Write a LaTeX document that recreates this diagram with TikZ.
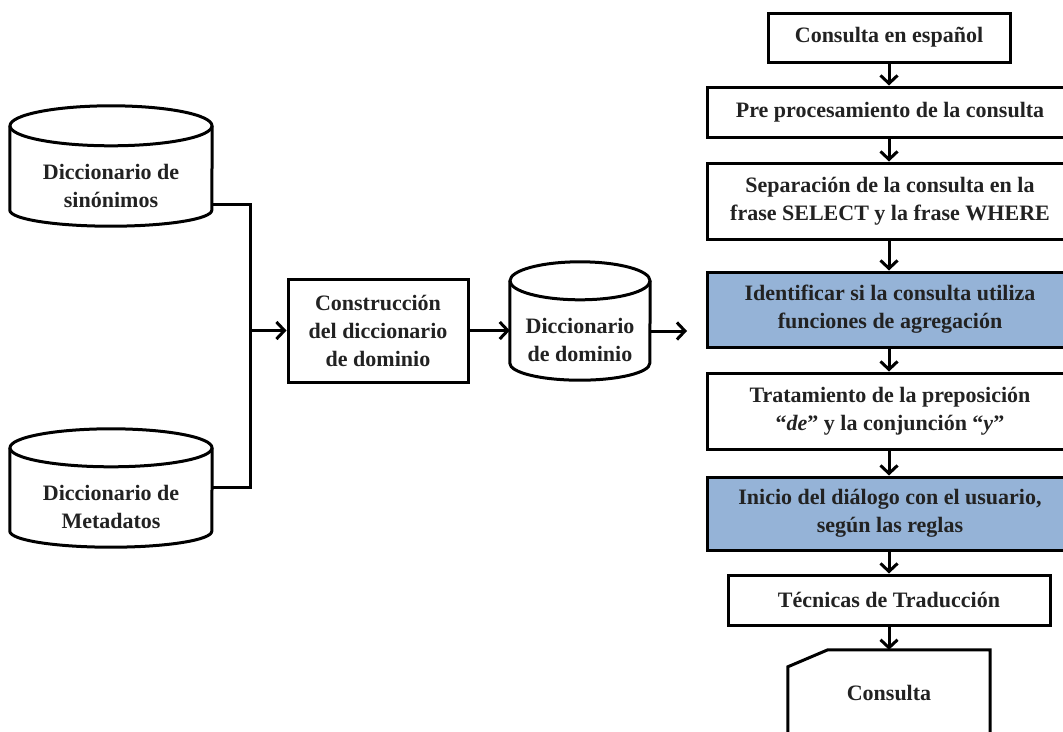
\documentclass[tikz,border=0pt]{standalone}
\usepackage{fontspec}
\setmainfont{Liberation Serif}
\usetikzlibrary{arrows.meta,calc}
\definecolor{boxblue}{HTML}{95B3D7}
\definecolor{txt}{HTML}{222222}
\newcommand\cylout[4]{%
  \draw[ln] ([yshift=#2pt]#1.north west) -- ([yshift=#3pt]#1.south west)
    arc[start angle=180,end angle=360,x radius=#4pt,y radius=#3pt]
    -- ([yshift=#2pt]#1.north east);
  \draw[ln] ([yshift=#2pt]#1.north) ellipse[x radius=#4pt,y radius=#2pt];}
\tikzset{
  ln/.style={line width=3pt, black},
  arr/.style={ln, -{Straight Barb[length=8pt,width=17pt,line width=3pt]}},
  txtstyle/.style={align=center, text=txt, inner sep=0pt,
    font=\bfseries\fontsize{22}{28}\selectfont},
  box/.style={txtstyle, draw, line width=3pt, fill=white},
  bluebox/.style={box, fill=boxblue},
  shapebox/.style={txtstyle},
}
\begin{document}
\begin{tikzpicture}[x=1pt,y=-1pt]
\clip (0,0) rectangle (1063,731);
\fill[white] (0,0) rectangle (1063,731);

% left databases
\node[shapebox, minimum width=202pt, minimum height=80pt] (syn) at (111,186) {Diccionario de\\sinónimos};
\cylout{syn}{20}{16}{101}
\node[shapebox, minimum width=202pt, minimum height=80pt] (meta) at (111,507) {Diccionario de\\Metadatos};
\cylout{meta}{19}{16}{101}

\coordinate (j) at (250,330.5);
\node[box, minimum width=180pt, minimum height=103pt] (con) at (378,330.5) {Construcción\\del diccionario\\de dominio};
\node[shapebox, minimum width=140pt, minimum height=80pt] (dom) at (580,340) {Diccionario\\de dominio};
\cylout{dom}{19}{17}{70}

\draw[ln] ([yshift=-18pt]syn.east) -| (j) |- ([yshift=20pt]meta.east);
\draw[arr] (j) -- (con.west);
\draw[arr] (con.east) -- (con.east -| dom.west);

% right column
\node[box, minimum width=242pt, minimum height=49pt] (b1) at (889,37.5) {Consulta en español};
\node[box, minimum width=366pt, minimum height=50pt] (b2) at (890,112) {Pre procesamiento de la consulta};
\node[box, minimum width=366pt, minimum height=76pt] (b3) at (890,201) {Separación de la consulta en la\\frase SELECT y la frase WHERE};
\node[bluebox, minimum width=366pt, minimum height=75pt] (b4) at (890,309.5) {Identificar si la consulta utiliza\\funciones de agregación};
\node[box, minimum width=366pt, minimum height=76pt] (b5) at (890,411) {Tratamiento de la preposición\\“\textit{de}” y la conjunción “\textit{y}”};
\node[bluebox, minimum width=366pt, minimum height=73pt] (b6) at (890,513.5) {Inicio del diálogo con el usuario,\\según las reglas};
\node[box, minimum width=322pt, minimum height=50pt] (b7) at (889,600) {Técnicas de Traducción};
\node[shapebox, minimum width=202pt, minimum height=85pt] (out) at (889,692.5) {Consulta};
\draw[ln] ([yshift=-17pt]out.north west) -- ([xshift=40pt]out.north west) -- (out.north east)
  -- (out.south east) -- (out.south west) -- cycle;

\coordinate (domtip) at (687,331);
\draw[arr] (dom.east |- domtip) -- (domtip);

\draw[arr] (b1.south) -- (b2.north -| b1.south);
\draw[arr] (b2.south -| b1.south) -- (b3.north -| b1.south);
\draw[arr] (b3.south -| b1.south) -- (b4.north -| b1.south);
\draw[arr] (b4.south -| b1.south) -- (b5.north -| b1.south);
\draw[arr] (b5.south -| b1.south) -- (b6.north -| b1.south);
\draw[arr] (b6.south -| b1.south) -- (b7.north);
\draw[arr] (b7.south) -- (out.north);
\end{tikzpicture}
\end{document}
